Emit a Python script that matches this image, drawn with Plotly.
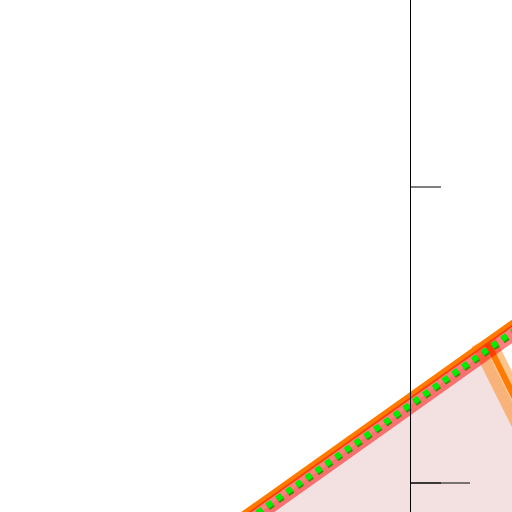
import plotly.graph_objects as go

# ---- data (axis units) ----
main_x = [-4.1, 2.9]
main_y = [-0.21, 0.65]
dots_x = [-4.1, 2.9]
dots_y = [-0.242, 0.618]
band_y = [-0.246, 0.614]
branch_x = [1.5, 2.3]
branch_y = [0.48, 0.203]
branch_band_x = [1.43, 2.23]
fill_x = [-4.1, 1.5, 2.5, 2.5, -4.1]
fill_y = [-0.245, 0.445, 0.10, -0.3, -0.3]
tick_major = [0, 1]
tick_long = [0]

X_RANGE = [-8, 2]
Y_RANGE = [-0.098, 1.632]

fig = go.Figure()
fig.add_trace(go.Scatter(x=fill_x, y=fill_y, mode="lines", fill="toself",
                         fillcolor="#f3e0e0", line=dict(width=0), hoverinfo="skip"))
fig.add_trace(go.Scatter(x=branch_band_x, y=branch_y, mode="lines",
                         line=dict(color="rgba(255,125,0,0.45)", width=25)))
fig.add_trace(go.Scatter(x=branch_x, y=branch_y, mode="lines",
                         line=dict(color="#ff7b00", width=6)))
fig.add_trace(go.Scatter(x=main_x, y=main_y, mode="lines",
                         line=dict(color="#ff7b00", width=6)))
fig.add_trace(go.Scatter(x=dots_x, y=band_y, mode="lines",
                         line=dict(color="rgba(255,0,0,0.5)", width=15)))
fig.add_trace(go.Scatter(x=dots_x, y=[v - 0.005 for v in dots_y], mode="lines",
                         line=dict(color="#3f8a00", width=6, dash="dot")))
fig.add_trace(go.Scatter(x=[v - 0.02 for v in dots_x], y=dots_y, mode="lines",
                         line=dict(color="#00ee00", width=6, dash="dot")))
fig.add_trace(go.Scatter(x=[], y=[], yaxis="y2", mode="lines", hoverinfo="skip"))

fig.update_layout(
    width=512, height=512, margin=dict(l=0, r=0, t=0, b=0),
    paper_bgcolor="white", plot_bgcolor="white", showlegend=False,
    xaxis=dict(range=X_RANGE, visible=False, domain=[0, 1]),
    yaxis=dict(range=Y_RANGE, anchor="free", position=0.8, showline=True,
               linecolor="black", linewidth=1, ticks="inside", ticklen=30,
               tickwidth=2, tickcolor="rgba(0,0,0,0.5)", tickvals=tick_major,
               showticklabels=False, showgrid=False, zeroline=False),
    yaxis2=dict(range=Y_RANGE, overlaying="y", anchor="free", position=0.8,
                showline=False, ticks="inside", ticklen=59, tickwidth=2,
                tickcolor="rgba(0,0,0,0.5)", tickvals=tick_long,
                showticklabels=False, showgrid=False, zeroline=False),
)
fig.write_html("out.html", config={"displayModeBar": False},
               post_script="document.body.style.margin='0';document.body.style.overflow='hidden';")
